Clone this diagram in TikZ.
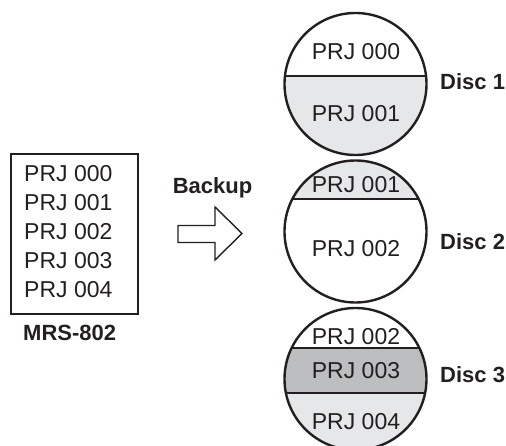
\documentclass[tikz,border=0pt]{standalone}
\usepackage{fontspec}
\setmainfont{Liberation Sans}
\definecolor{ink}{HTML}{231F20}
\definecolor{lightg}{HTML}{E6E7E8}
\definecolor{darkg}{HTML}{BCBEC0}
\begin{document}
\begin{tikzpicture}[x=1pt,y=-1pt,
  txt/.style={inner sep=0pt, text=ink, font=\fontsize{23}{26}\selectfont},
  btxt/.style={inner sep=0pt, text=ink, font=\fontsize{22}{26}\selectfont\bfseries},
  disc/.style={circle, draw=ink, line width=2.4pt, minimum size=142pt, inner sep=0pt},
  divider/.style={draw=ink, line width=2.2pt}]
\useasboundingbox (0,0) rectangle (506,446);
\clip (0,0) rectangle (506,446);

% source box
\node[draw=ink, line width=1.2pt, minimum width=127pt, minimum height=160pt, inner sep=0pt] (box) at (74.5,234) {};
\node[txt, anchor=west] (s0) at (24,174) {PRJ 000};
\node[txt, anchor=west] (s1) at (24,203) {PRJ 001};
\node[txt, anchor=west] (s2) at (24,232) {PRJ 002};
\node[txt, anchor=west] (s3) at (24,261) {PRJ 003};
\node[txt, anchor=west] (s4) at (24,290) {PRJ 004};
\node[btxt, anchor=west] (mrs) at (23,333) {MRS-802};

% backup arrow
\node[btxt] (backup) at (212.5,188) {Backup};
\coordinate (ar) at (178,233);
\draw[draw=ink, line width=1.4pt, fill=white, line join=miter]
  (178,225.5) -- (215,225.5) -- (215,207) -- (242,233.5) -- (215,260) -- (215,242.5) -- (178,242.5) -- cycle;

% Disc 1
\coordinate (c1) at (355.5,84);
\begin{scope}
  \clip (c1) circle (71);
  \fill[lightg] (280,76) rectangle (432,160);
  \draw[divider] (280,76) -- (432,76);
\end{scope}
\node[disc] (d1) at (c1) {};
\node[txt] (d1a) at (356,52) {PRJ 000};
\node[txt] (d1b) at (356,114) {PRJ 001};
\node[btxt, anchor=west] (l1) at (440,82) {Disc 1};

% Disc 2
\coordinate (c2) at (355.5,231.5);
\begin{scope}
  \clip (c2) circle (71);
  \fill[lightg] (280,155) rectangle (432,199);
  \draw[divider] (280,199) -- (432,199);
\end{scope}
\node[disc] (d2) at (c2) {};
\node[txt] (d2a) at (356,185) {PRJ 001};
\node[txt] (d2b) at (356,249) {PRJ 002};
\node[btxt, anchor=west] (l2) at (440,242) {Disc 2};

% Disc 3
\coordinate (c3) at (355.5,379);
\begin{scope}
  \clip (c3) circle (71);
  \fill[darkg] (280,348) rectangle (432,393);
  \fill[lightg] (280,393) rectangle (432,455);
  \draw[divider] (280,348) -- (432,348);
  \draw[divider] (280,393) -- (432,393);
\end{scope}
\node[disc] (d3) at (c3) {};
\node[txt] (d3a) at (356,337) {PRJ 002};
\node[txt] (d3b) at (356,371) {PRJ 003};
\node[txt] (d3c) at (356,422) {PRJ 004};
\node[btxt, anchor=west] (l3) at (440,375) {Disc 3};
\end{tikzpicture}
\end{document}
